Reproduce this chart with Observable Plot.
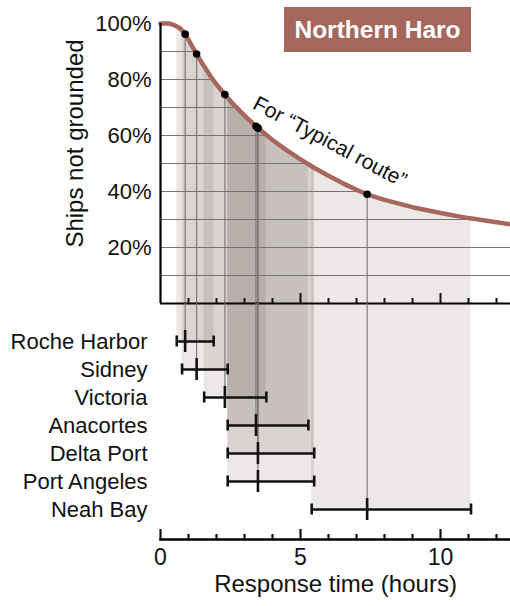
<!DOCTYPE html>
<html><head><meta charset="utf-8">
<script src="https://cdn.jsdelivr.net/npm/d3@7"></script>
<script src="https://cdn.jsdelivr.net/npm/@observablehq/plot@0.6"></script>
<style>
html,body{margin:0;padding:0;background:#fff;}
#wrap{position:relative;width:510px;height:606px;font-family:"Liberation Sans",Arial,Helvetica,sans-serif;overflow:hidden;}
#wrap svg{display:block;overflow:visible;}
#title{position:absolute;left:284px;top:7px;width:187px;height:45px;background:#a5665c;color:#fff;font-weight:bold;font-size:24.5px;line-height:45px;text-align:center;z-index:2;}
</style></head><body>
<div id="wrap"><div id="title">Northern Haro</div></div>
<script>
// ---- data ----
const stations = ["Roche Harbor", "Sidney", "Victoria", "Anacortes", "Delta Port", "Port Angeles", "Neah Bay"];
const lows    = [0.58, 0.77, 1.56, 2.40, 2.40, 2.40, 5.40];
const medians = [0.88, 1.29, 2.30, 3.41, 3.48, 3.48, 7.38];
const highs   = [1.90, 2.40, 3.78, 5.28, 5.49, 5.49, 11.09];

const curveHours = [0, 0.3, 0.5, 0.7, 0.88, 1.0, 1.29, 1.5, 1.8, 2.0, 2.3, 2.6, 3.0, 3.41, 3.5, 4.0, 4.5, 5.0, 5.5, 6.0, 6.5, 7.0, 7.38, 8.0, 9.0, 10.0, 11.0, 12.0, 12.5];
const curvePct   = [100, 100, 99.4, 98.3, 96.2, 94.2, 89.1, 85.6, 81.0, 78.2, 74.6, 71.2, 67.1, 63.3, 62.5, 58.4, 54.8, 51.5, 48.4, 45.6, 43.0, 40.6, 39.0, 37.0, 34.4, 32.3, 30.5, 29.0, 28.3];

const yTicks = [20, 40, 60, 80, 100];
const gridLevels = [10, 20, 30, 40, 50, 60, 70, 80, 90];
const xMajorTicks = [0, 5, 10];
const xMinorTicks = [1, 2, 3, 4, 6, 7, 8, 9, 11, 12];
const xLabel = "Response time (hours)";
const yLabel = "Ships not grounded";
const annotation = [{t: 6.05, v: 57.7, label: "For \u201CTypical route\u201D"}];

// ---- helpers ----
const xDomain = [0, 12.5];
const curve = curveHours.map((t, i) => ({t, v: curvePct[i]}));
function f(t) {
  for (let i = 1; i < curveHours.length; i++) {
    if (t <= curveHours[i]) {
      const t0 = curveHours[i - 1], t1 = curveHours[i];
      const v0 = curvePct[i - 1], v1 = curvePct[i];
      return v0 + (v1 - v0) * (t - t0) / (t1 - t0);
    }
  }
  return curvePct[curvePct.length - 1];
}
function crossing(L) {
  for (let i = 1; i < curveHours.length; i++) {
    const v0 = curvePct[i - 1], v1 = curvePct[i];
    if (v0 >= L && v1 < L) {
      const t0 = curveHours[i - 1], t1 = curveHours[i];
      return t0 + (L - v0) / (v1 - v0) * (t1 - t0);
    }
  }
  return xDomain[1];
}
const rows = stations.map((name, i) => ({name, i, lo: lows[i], med: medians[i], hi: highs[i], mv: f(medians[i])}));
const bandPts = rows.flatMap(r =>
  [r.lo, ...curveHours.filter(t => t > r.lo && t < r.hi), r.hi].map(t => ({name: r.name, t, v: f(t)})));
const grid = gridLevels.map(L => ({L, t2: crossing(L)}));

const font = "'Liberation Sans', Arial, Helvetica, sans-serif";
const bandFill = "#3f2211", bandOpacity = 0.1;
const gridColor = "#767370";
const ink = "#111";

const topPlot = Plot.plot({
  width: 510, height: 303,
  marginLeft: 160, marginRight: 0, marginTop: 23, marginBottom: 0,
  x: {domain: xDomain},
  y: {domain: [0, 100]},
  style: {fontFamily: font, fontSize: "21px", background: "transparent", overflow: "visible", color: ink},
  marks: [
    Plot.areaY(bandPts, {x: "t", y1: 0, y2: "v", z: "name", fill: bandFill, fillOpacity: bandOpacity}),
    Plot.ruleY(grid, {y: "L", x1: 0, x2: "t2", stroke: gridColor, strokeWidth: 1.2}),
    Plot.ruleX(rows, {x: "med", y1: 0, y2: "mv", stroke: gridColor, strokeWidth: 1.1}),
    Plot.line(curve, {x: "t", y: "v", stroke: "#a8675c", strokeWidth: 4.5}),
    Plot.dot(rows, {x: "med", y: "mv", r: 3.8, fill: "#000"}),
    Plot.ruleY([0], {stroke: "#000", strokeWidth: 2.2}),
    Plot.ruleX([0], {y1: 0, y2: 100, stroke: "#000", strokeWidth: 2.2}),
    Plot.axisX({ticks: xMinorTicks, tickSize: -5, tickFormat: () => "", label: null, strokeWidth: 2}),
    Plot.axisX({ticks: xMajorTicks.filter(d => d > 0), tickSize: -10, tickFormat: () => "", label: null, strokeWidth: 2}),
    Plot.axisY({ticks: yTicks, tickFormat: d => d + "%", tickSize: 0, tickPadding: 9, label: null, fontSize: 22}),
    Plot.text([yLabel], {text: d => d, frameAnchor: "left", textAnchor: "middle", dx: -85, dy: -20, rotate: -90, fontSize: 24}),
    Plot.text(annotation, {x: "t", y: "v", text: "label", rotate: 28, fontSize: 21})
  ]
});

const yTop = -1.357, yAxisPos = 7.071;
const bottomPlot = Plot.plot({
  width: 510, height: 303,
  marginLeft: 160, marginRight: 0, marginTop: 0, marginBottom: 67,
  x: {domain: xDomain},
  y: {domain: [yTop, yAxisPos], reverse: true},
  style: {fontFamily: font, fontSize: "21px", background: "transparent", overflow: "visible", color: ink},
  marks: [
    Plot.rect(rows, {x1: "lo", x2: "hi", y1: yTop, y2: "i", fill: bandFill, fillOpacity: bandOpacity}),
    Plot.ruleX(rows, {x: "med", y1: yTop, y2: "i", stroke: gridColor, strokeWidth: 1.1}),
    Plot.ruleY(rows, {y: "i", x1: "lo", x2: "hi", stroke: ink, strokeWidth: 2.6}),
    Plot.ruleX(rows, {x: "lo", y1: "i", y2: "i", insetTop: -5.5, insetBottom: -5.5, stroke: ink, strokeWidth: 2.6}),
    Plot.ruleX(rows, {x: "hi", y1: "i", y2: "i", insetTop: -5.5, insetBottom: -5.5, stroke: ink, strokeWidth: 2.6}),
    Plot.ruleX(rows, {x: "med", y1: "i", y2: "i", insetTop: -11, insetBottom: -11, stroke: ink, strokeWidth: 2.6}),
    Plot.frame({anchor: "bottom", stroke: "#000", strokeWidth: 2.6}),
    Plot.axisX({ticks: xMinorTicks, tickSize: -5, tickFormat: () => "", label: null, strokeWidth: 2.2}),
    Plot.axisX({ticks: xMajorTicks, tickSize: -10, tickFormat: () => "", label: null, strokeWidth: 2.2}),
    Plot.axisX({ticks: xMajorTicks, tickSize: 0, tickPadding: 9, label: null, fontSize: 23}),
    Plot.axisY({ticks: rows.map(d => d.i), tickFormat: i => stations[i], tickSize: 0, tickPadding: 13, label: null, fontSize: 22}),
    Plot.text([xLabel], {text: d => d, frameAnchor: "bottom", dy: 52, fontSize: 24})
  ]
});

const wrap = document.getElementById("wrap");
wrap.appendChild(topPlot);
wrap.appendChild(bottomPlot);
</script>
</body></html>
